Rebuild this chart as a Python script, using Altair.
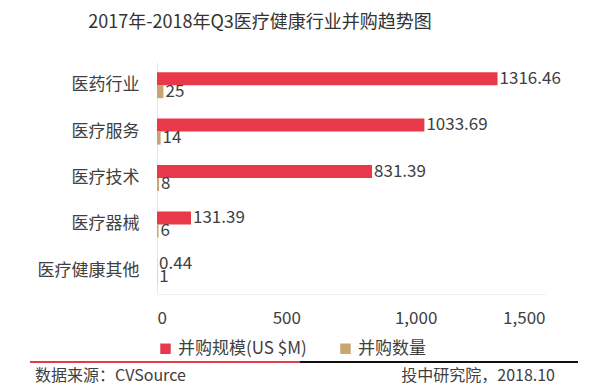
import altair as alt
import pandas as pd

categories = ["医药行业", "医疗服务", "医疗技术", "医疗器械", "医疗健康其他"]
deal_value = [1316.46, 1033.69, 831.39, 131.39, 0.44]
deal_count = [25, 14, 8, 6, 1]
series = ["并购规模(US $M)", "并购数量"]
colors = ["#E8394A", "#C9A66F"]
x_ticks = [0, 500, 1000, 1500]

rows = []
for c, v, n in zip(categories, deal_value, deal_count):
    rows.append({"cat": c, "series": series[0], "val": v, "label": f"{v:g}"})
    rows.append({"cat": c, "series": series[1], "val": n, "label": f"{n}"})
df = pd.DataFrame(rows)

FONT = "Noto Sans CJK SC"
TXT = "#404040"

y_enc = alt.Y("cat:N", sort=categories, title=None,
              scale=alt.Scale(paddingInner=0.44, paddingOuter=0.22),
              axis=alt.Axis(labelFontSize=17, labelColor=TXT, labelFont=FONT,
                            ticks=False, domainColor="#e8e8e8", labelPadding=18))
yoff = alt.YOffset("series:N", sort=series, scale=alt.Scale(paddingInner=0))

base = alt.Chart(df)

bars = base.mark_bar().encode(
    x=alt.X("val:Q", title=None, scale=alt.Scale(domain=[0, 1500], nice=False),
            axis=alt.Axis(values=x_ticks, format=",d", labelFontSize=17, labelColor=TXT,
                          labelFont=FONT, ticks=False, grid=False, domainColor="#eeeeee",
                          labelPadding=16)),
    y=y_enc,
    yOffset=yoff,
    color=alt.Color("series:N", sort=series,
                    scale=alt.Scale(domain=series, range=colors),
                    legend=alt.Legend(title=None, orient="none", direction="horizontal",
                                      legendX=0, legendY=278, symbolType="square",
                                      symbolSize=110, labelFontSize=17, labelColor=TXT,
                                      labelFont=FONT, columnPadding=30, symbolStrokeWidth=0)),
)

labels = base.mark_text(align="left", baseline="middle", dx=2, fontSize=17,
                        font=FONT, color=TXT).encode(
    x="val:Q",
    y=alt.Y("cat:N", sort=categories),
    yOffset=yoff,
    text="label:N",
)

one = pd.DataFrame({"k": [0]})
title = alt.Chart(one).mark_text(text="2017年-2018年Q3医疗健康行业并购趋势图", align="center",
                                 baseline="middle", fontSize=18, font=FONT,
                                 color="#333333").encode(
    x=alt.value(103), y=alt.value(-39))
red_line = alt.Chart(one).mark_rule(color="#E8394A", strokeWidth=2).encode(
    x=alt.value(-127), x2=alt.value(143), y=alt.value(300))
black_line = alt.Chart(one).mark_rule(color="#111111", strokeWidth=2).encode(
    x=alt.value(143), x2=alt.value(421), y=alt.value(300))
src_left = alt.Chart(one).mark_text(text="数据来源：CVSource", align="left", baseline="middle",
                                    fontSize=16, font=FONT, color=TXT).encode(
    x=alt.value(-122), y=alt.value(314))
src_right = alt.Chart(one).mark_text(text="投中研究院，2018.10", align="right", baseline="middle",
                                     fontSize=16, font=FONT, color=TXT).encode(
    x=alt.value(398), y=alt.value(314))

chart = alt.layer(bars, labels, title, red_line, black_line, src_left, src_right).properties(
    width=388, height=232,
    autosize=alt.AutoSizeParams(type="none"),
    padding={"left": 149, "top": 54, "right": 47, "bottom": 91},
).configure_view(stroke=None)

chart.save("out.html", embed_options={"renderer": "svg", "actions": False})
